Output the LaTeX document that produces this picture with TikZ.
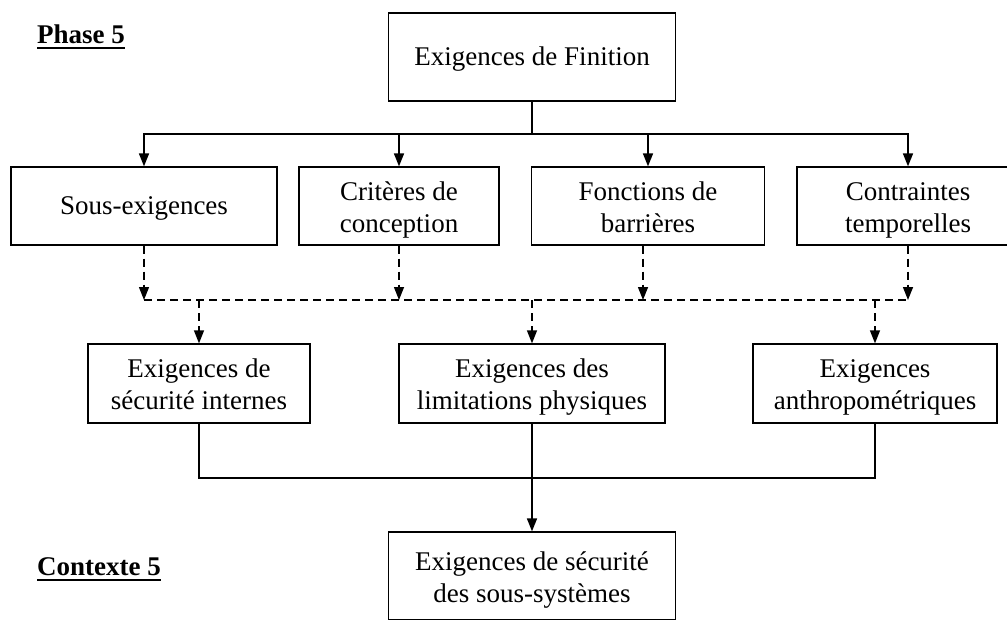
\documentclass[tikz,border=0pt]{standalone}
\usepackage{fontspec}
\setmainfont{Liberation Serif}
\usetikzlibrary{arrows.meta}
\begin{document}
\begin{tikzpicture}[x=1pt,y=-1pt,
  box/.style={draw,line width=1.3pt,rectangle,inner sep=0pt,align=center,
    text height=22pt,text depth=5pt,
    font=\fontsize{27}{32}\selectfont},
  box2/.style={box,text height=56pt,text depth=4pt},
  lbl/.style={inner sep=0pt,anchor=base west,font=\fontsize{27}{32}\selectfont\bfseries},
  conn/.style={line width=1.6pt},
  arr/.style={conn,-{Triangle[length=13pt,width=10pt]}},
  dsh/.style={line width=1.4pt,dash pattern=on 8pt off 5pt},
  dasharr/.style={dsh,-{Triangle[length=13pt,width=10pt]}}]
\useasboundingbox (0,0) rectangle (1007,619);
\clip (0,0) rectangle (1007,619);
\fill[white] (0,0) rectangle (1007,619);

% labels
\node[lbl] (phase) at (37,43) {Phase 5};
\draw[line width=2pt] ([yshift=-5pt]phase.base west) -- ([yshift=-5pt]phase.base east);
\node[lbl] (ctx) at (37,575) {Contexte 5};
\draw[line width=2pt] ([yshift=-5pt]ctx.base west) -- ([yshift=-5pt]ctx.base east);

% boxes
\node[box,minimum width=287pt,minimum height=88pt] (top) at (532,57) {Exigences de Finition};

\node[box,minimum width=266pt,minimum height=78pt] (sous) at (144,206) {Sous-exigences};
\node[box2,minimum width=200pt,minimum height=78pt] (crit) at (399,206) {Critères de\\conception};
\node[box2,minimum width=233pt,minimum height=78pt] (fonc) at (648,206) {Fonctions de\\barrières};
\node[box2,minimum width=222pt,minimum height=78pt] (cont) at (908,206) {Contraintes\\temporelles};

\node[box2,minimum width=222pt,minimum height=79pt] (ra) at (199,383.5) {Exigences de\\sécurité internes};
\node[box2,minimum width=266pt,minimum height=79pt] (rb) at (532,383.5) {Exigences des\\limitations physiques};
\node[box2,minimum width=244pt,minimum height=79pt] (rc) at (875,383.5) {Exigences\\anthropométriques};

\node[box2,minimum width=287pt,minimum height=88pt] (bot) at (532,576) {Exigences de sécurité\\des sous-systèmes};

% top connectors
\coordinate (j1) at (532,134);
\draw[conn] (top.south) -- (j1);
\draw[arr] (j1) -| (sous);
\draw[arr] (j1) -| (crit);
\draw[arr] (j1) -| (fonc);
\draw[arr] (j1) -| (cont);

% dashed collector
\coordinate (d1) at (144,300);
\coordinate (d2) at (399,300);
\coordinate (d3) at (643,300);
\coordinate (d4) at (908,300);
\draw[dasharr] (sous.south) -- (d1);
\draw[dasharr] (crit.south) -- (d2);
\draw[dasharr] (fonc.south -| d3) -- (d3);
\draw[dasharr] (cont.south) -- (d4);
\draw[dsh] (d1) -- (d4);
\coordinate (e1) at (199,300);
\coordinate (e2) at (532,300);
\coordinate (e3) at (875,300);
\draw[dasharr] (e1) -- (ra.north);
\draw[dasharr] (e2) -- (rb.north);
\draw[dasharr] (e3) -- (rc.north);

% bottom connectors
\coordinate (m) at (532,478);
\draw[conn] (ra) |- (m);
\draw[conn] (m) -| (rc);
\draw[conn] (rb) -- (m);
\draw[arr] (m) -- (bot.north);
\end{tikzpicture}
\end{document}
